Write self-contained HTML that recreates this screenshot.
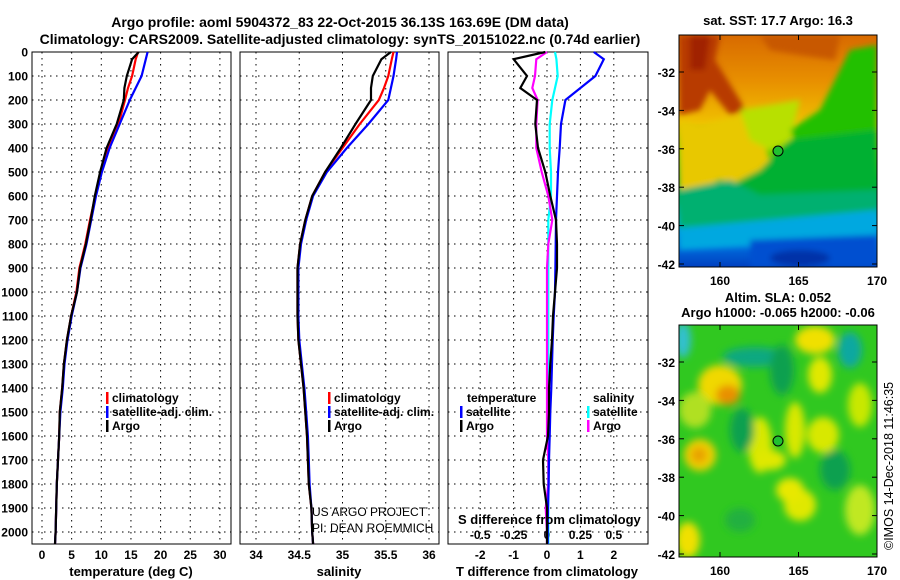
<!DOCTYPE html>
<html><head><meta charset="utf-8"><style>
body{margin:0;background:#fff}
svg{display:block;font-family:"Liberation Sans",sans-serif}
.t{font-weight:bold;font-size:13px}
.tk{font-weight:bold;font-size:12px}
</style></head><body>
<svg id="c" width="900" height="580" viewBox="0 0 900 580" xmlns="http://www.w3.org/2000/svg">
<defs>
<filter id="bl" x="-50%" y="-50%" width="200%" height="200%"><feGaussianBlur stdDeviation="4"/></filter>
<filter id="bl2" x="-50%" y="-50%" width="200%" height="200%"><feGaussianBlur stdDeviation="3"/></filter>
<linearGradient id="sst" x1="0" y1="0" x2="0" y2="1">
<stop offset="0" stop-color="#d86a00"/><stop offset="0.2" stop-color="#e89000"/><stop offset="0.38" stop-color="#f0c000"/>
<stop offset="0.5" stop-color="#60d000"/><stop offset="0.62" stop-color="#00b830"/><stop offset="0.72" stop-color="#00b070"/>
<stop offset="0.8" stop-color="#00b0e0"/><stop offset="0.9" stop-color="#0070e0"/><stop offset="1" stop-color="#0040c0"/></linearGradient>
<clipPath id="m1"><rect x="679" y="35" width="198" height="232"/></clipPath>
<clipPath id="m2"><rect x="679" y="325" width="198" height="232"/></clipPath>
</defs>
<text x="340" y="27" text-anchor="middle" style="font-size:14px;font-weight:bold">Argo profile: aoml 5904372_83 22-Oct-2015 36.13S 163.69E (DM data)</text>
<text x="340" y="44" text-anchor="middle" style="font-size:14px;font-weight:bold">Climatology: CARS2009. Satellite-adjusted climatology: synTS_20151022.nc (0.74d earlier)</text>
<g id="plots"></g>
<g clip-path="url(#m1)">
<rect x="679" y="35" width="198" height="232" fill="url(#sst)"/>
<g filter="url(#bl2)">
<polygon points="679,35 720,35 715,60 740,100 745,110 730,115 710,90 700,110 679,115" fill="#b83a00"/>
<polygon points="690,35 710,35 705,70 690,70" fill="#a02000"/>
<polygon points="760,35 840,35 835,60 800,55 770,50" fill="#c85800"/>
<polygon points="679,120 700,125 740,115 760,130 770,160 760,190 720,180 690,195 679,200" fill="#e8c800"/>
<polygon points="740,110 800,100 790,140 770,150 750,140" fill="#b8e000"/>
<polygon points="830,90 850,50 877,45 877,140 840,150 800,150 790,130 820,110" fill="#20c000"/>
<polygon points="790,140 877,130 877,190 820,195 750,200 730,185 760,170" fill="#00b030"/>
<polygon points="679,190 730,180 760,195 877,190 877,215 679,230" fill="#00b070"/>
<polygon points="679,228 877,210 877,240 679,250" fill="#00a8e0"/>
<polygon points="750,240 877,235 877,267 750,267" fill="#0050d0"/>
<ellipse cx="800" cy="258" rx="30" ry="8" fill="#0030a8"/>
</g>
<circle cx="778" cy="151" r="5" fill="#20c030" stroke="#000"/>
</g>
<rect x="679" y="35" width="198" height="232" fill="none" stroke="#000"/>
<g clip-path="url(#m2)">
<rect x="679" y="325" width="198" height="232" fill="#30c820"/>
<g filter="url(#bl)">
<ellipse cx="755" cy="357" rx="32" ry="10" fill="#10a880"/>
<ellipse cx="850" cy="350" rx="12" ry="18" fill="#10a8a0"/>
<ellipse cx="683" cy="340" rx="8" ry="18" fill="#30c0d0"/>
<ellipse cx="720" cy="385" rx="22" ry="20" fill="#f0d800"/>
<ellipse cx="728" cy="395" rx="12" ry="10" fill="#e89000"/>
<ellipse cx="700" cy="455" rx="16" ry="16" fill="#f0d000"/>
<ellipse cx="699" cy="455" rx="8" ry="8" fill="#e8a000"/>
<ellipse cx="815" cy="340" rx="20" ry="14" fill="#f0e000"/>
<ellipse cx="820" cy="375" rx="12" ry="18" fill="#e0e800"/>
<ellipse cx="795" cy="430" rx="10" ry="28" fill="#d8e800"/>
<ellipse cx="760" cy="445" rx="12" ry="28" fill="#d8e800"/>
<ellipse cx="823" cy="435" rx="16" ry="18" fill="#d8e800"/>
<ellipse cx="770" cy="460" rx="16" ry="10" fill="#e0e800"/>
<ellipse cx="860" cy="405" rx="12" ry="22" fill="#c8e800"/>
<ellipse cx="800" cy="505" rx="16" ry="16" fill="#e0e800"/>
<ellipse cx="790" cy="490" rx="14" ry="12" fill="#e8e800"/>
<ellipse cx="860" cy="510" rx="15" ry="25" fill="#c0e820"/>
<ellipse cx="688" cy="540" rx="12" ry="18" fill="#f0e000"/>
<ellipse cx="695" cy="410" rx="16" ry="18" fill="#b0e020"/>
<ellipse cx="782" cy="370" rx="12" ry="25" fill="#10a050"/>
<ellipse cx="742" cy="430" rx="12" ry="22" fill="#10a050"/>
<ellipse cx="835" cy="470" rx="15" ry="20" fill="#10a050"/>
<ellipse cx="740" cy="520" rx="15" ry="12" fill="#20b040"/>
</g>
<circle cx="778" cy="441" r="5" fill="#20c030" stroke="#000"/>
</g>
<rect x="679" y="325" width="198" height="232" fill="none" stroke="#000"/>
<text x="778" y="25" text-anchor="middle" class="t">sat. SST: 17.7 Argo: 16.3</text>
<text x="778" y="302" text-anchor="middle" class="t">Altim. SLA: 0.052</text>
<text x="778" y="317" text-anchor="middle" class="t">Argo h1000: -0.065 h2000: -0.06</text>
<text transform="translate(893,550) rotate(-90)" style="font-size:12.5px">©IMOS 14-Dec-2018 11:46:35</text>
<g id="maxes"></g>
</svg>
<script>
// ---- data ----
const pressure = [0,30,100,150,200,300,400,500,600,700,800,900,1000,1100,1200,1300,1400,1500,1600,1700,1800,1900,2000,2050];
const tempArgo = [16.3,15.2,14.3,13.9,13.8,12.6,10.9,9.8,8.9,8.2,7.4,6.4,5.9,4.9,4.2,3.7,3.4,3.0,2.9,2.7,2.5,2.4,2.3,2.2];
const tempClim = [16.2,15.8,15.2,14.5,14.0,12.9,11.2,9.9,9.0,8.1,7.3,6.3,5.8,4.9,4.2,3.7,3.4,3.0,2.9,2.7,2.5,2.4,2.3,2.2];
const tempSat  = [17.8,17.5,16.8,15.8,14.8,13.1,11.4,10.1,9.1,8.3,7.5,6.5,5.9,5.0,4.3,3.8,3.5,3.1,2.9,2.7,2.5,2.4,2.3,2.2];
const salArgo = [35.56,35.45,35.35,35.33,35.33,35.15,34.98,34.8,34.65,34.57,34.51,34.48,34.48,34.48,34.49,34.52,34.55,34.57,34.59,34.6,34.61,34.64,34.65,34.66];
const salClim = [35.59,35.57,35.53,35.48,35.42,35.2,35.0,34.8,34.65,34.57,34.51,34.48,34.48,34.48,34.49,34.52,34.55,34.57,34.59,34.6,34.61,34.64,34.65,34.66];
const salSat  = [35.63,35.62,35.59,35.56,35.53,35.3,35.05,34.82,34.66,34.58,34.52,34.49,34.49,34.49,34.5,34.53,34.56,34.58,34.6,34.61,34.62,34.64,34.65,34.66];
const dTArgo = [-0.05,-1.0,-0.6,-0.8,-0.3,-0.35,-0.27,-0.05,0.1,0.27,0.3,0.3,0.24,0.18,0.15,0.1,0.06,0.06,0.03,-0.12,-0.1,0.0,0.0,0.0];
const dTSat  = [1.4,1.7,1.45,1.0,0.55,0.42,0.38,0.33,0.3,0.27,0.26,0.25,0.24,0.2,0.17,0.15,0.13,0.1,0.08,0.06,0.05,0.03,0.02,0.02];
const dSArgo = [0.0,-0.08,-0.09,-0.11,-0.07,-0.08,-0.08,-0.04,0.01,0.04,0.01,0.0,0.0,0.0,0.0,0.0,0.0,0.0,0.0,0.01,0.01,-0.01,0.0,0.0];
const dSSat  = [0.06,0.07,0.08,0.06,0.04,0.02,0.02,0.03,0.03,0.01,0.01,0.01,0.01,0.01,0.01,0.01,0.01,0.01,0.01,0.01,0.01,0.01,0.01,0.01];
const depthTicks = [0,100,200,300,400,500,600,700,800,900,1000,1100,1200,1300,1400,1500,1600,1700,1800,1900,2000];
const tTicks = [0,5,10,15,20,25,30];
const sTicks = [34,34.5,35,35.5,36];
const dTTicks = [-2,-1,0,1,2];
const dSTickLabels = ['-0.5','-0.25','0','0.25','0.5'];
const lonTicks = [160,165,170];
const latTicks = [-32,-34,-36,-38,-40,-42];
// ---- drawing ----
const NS='http://www.w3.org/2000/svg';
const g=document.getElementById('plots'), gm=document.getElementById('maxes');
function mk(tag,at,par,txt){const e=document.createElementNS(NS,tag);for(const k in at)e.setAttribute(k,at[k]);if(txt!==undefined)e.textContent=txt;(par||g).appendChild(e);return e;}
const Y0=52,Y1=544;
const yP=p=>Y0+p*0.24;
const xT=v=>42+v*5.93, xS=v=>256+(v-34)*86.5, xD=v=>547+v*33.4, xDS=v=>547+v*133.6;
const panels=[[32,231],[240,439],[448,648]];
panels.forEach((p,i)=>{
  const r=mk('rect',{x:p[0],y:Y0,width:p[1]-p[0],height:Y1-Y0,fill:'none',stroke:'#000'});
  
  
  depthTicks.forEach(d=>{
    const l=mk('line',{x1:p[0],x2:p[1],y1:yP(d),y2:yP(d),stroke:'#000','stroke-dasharray':'1.5,4.5'});
    
    
  });
});
depthTicks.forEach(d=>{
  const t=mk('text',{x:28,y:yP(d)+4.5,'text-anchor':'end',class:'tk'},g,String(d));
  
  
});
function xgrid(ticks,fx,labels,ly){
  ticks.forEach((v,i)=>{
    const x=fx(v);
    const l=mk('line',{x1:x,x2:x,y1:Y0,y2:Y1,stroke:'#000','stroke-dasharray':'1.5,4.5'});
    
    
    const t=mk('text',{x:x,y:ly,'text-anchor':'middle',class:'tk'},g,labels?labels[i]:String(v));
    
    
  });
}
xgrid(tTicks,xT,null,559);
xgrid(sTicks,xS,null,559);
xgrid(dTTicks,xD,null,559);
dSTickLabels.forEach((s,i)=>{
  const t=mk('text',{x:xD(dTTicks[i]),y:539,'text-anchor':'middle',class:'tk'},g,s);
  
  
});
function series(vals,fx,col,name){
  const pts=vals.map((v,i)=>fx(v).toFixed(1)+','+yP(pressure[i]).toFixed(1)).join(' ');
  const pl=mk('polyline',{points:pts,fill:'none',stroke:col,'stroke-width':2.2});
  
  
}
series(tempClim,xT,'#f00','temp-climatology');
series(tempSat,xT,'#00f','temp-satellite');
series(tempArgo,xT,'#000','temp-argo');
series(salClim,xS,'#f00','sal-climatology');
series(salSat,xS,'#00f','sal-satellite');
series(salArgo,xS,'#000','sal-argo');
series(dSSat,xDS,'#0ff','s-diff-satellite');
series(dSArgo,xDS,'#f0f','s-diff-argo');
series(dTSat,xD,'#00f','t-diff-satellite');
series(dTArgo,xD,'#000','t-diff-argo');
function txt(x,y,s,cls,name,anchor){const t=mk('text',{x:x,y:y,class:cls||'tk','text-anchor':anchor||'start'},g,s);
  
  return t;}
function leg(x,y,col,s,name){const l=mk('rect',{x:x,y:y-10,width:2.5,height:12,fill:col});
  
  
  txt(x+6,y,s,'tk',name);}
leg(106,402,'#f00','climatology','legend-climatology');
leg(106,416,'#00f','satellite-adj. clim.','legend-satellite');
leg(106,430,'#000','Argo','legend-argo');
leg(328,402,'#f00','climatology','legend-climatology-2');
leg(328,416,'#00f','satellite-adj. clim.','legend-satellite-2');
leg(328,430,'#000','Argo','legend-argo-2');
txt(467,402,'temperature','tk','legend-temperature-header');
leg(460,416,'#00f','satellite','legend-t-satellite');
leg(460,430,'#000','Argo','legend-t-argo');
txt(593,402,'salinity','tk','legend-salinity-header');
leg(587,416,'#0ff','satellite','legend-s-satellite');
leg(587,430,'#f0f','Argo','legend-s-argo');
txt(458,524,'S difference from climatology','t','s-diff-axis-title');
txt(131,576,'temperature (deg C)','t','temp-axis-title','middle');
txt(339,576,'salinity','t','sal-axis-title','middle');
txt(547,576,'T difference from climatology','t','t-diff-axis-title','middle');
const a=txt(312,516,'US ARGO PROJECT','','credit-project');a.setAttribute('style','font-size:12px;font-weight:normal');
const b=txt(312,532,'PI: DEAN ROEMMICH','','credit-pi');b.setAttribute('style','font-size:12px;font-weight:normal');
// map axes
const mx=v=>720+(v-160)*15.7;
[[35,72],[325,362]].forEach((m,k)=>{
  const top=m[0], y32=m[1];
  const my=v=>y32+(-32-v)*19.2;
  latTicks.forEach(v=>{
    const t=mk('text',{x:675,y:my(v)+5,'text-anchor':'end',class:'tk'},gm,String(v));
    
    
    mk('line',{x1:877,x2:872,y1:my(v),y2:my(v),stroke:'#000'},gm);
    mk('line',{x1:679,x2:684,y1:my(v),y2:my(v),stroke:'#000'},gm);
  });
  lonTicks.forEach(v=>{
    const t=mk('text',{x:mx(v),y:top+250,'text-anchor':'middle',class:'tk'},gm,String(v));
    
    
    mk('line',{x1:mx(v),x2:mx(v),y1:top,y2:top+5,stroke:'#000'},gm);
    mk('line',{x1:mx(v),x2:mx(v),y1:top+232,y2:top+227,stroke:'#000'},gm);
  });
});
</script>
</body></html>
